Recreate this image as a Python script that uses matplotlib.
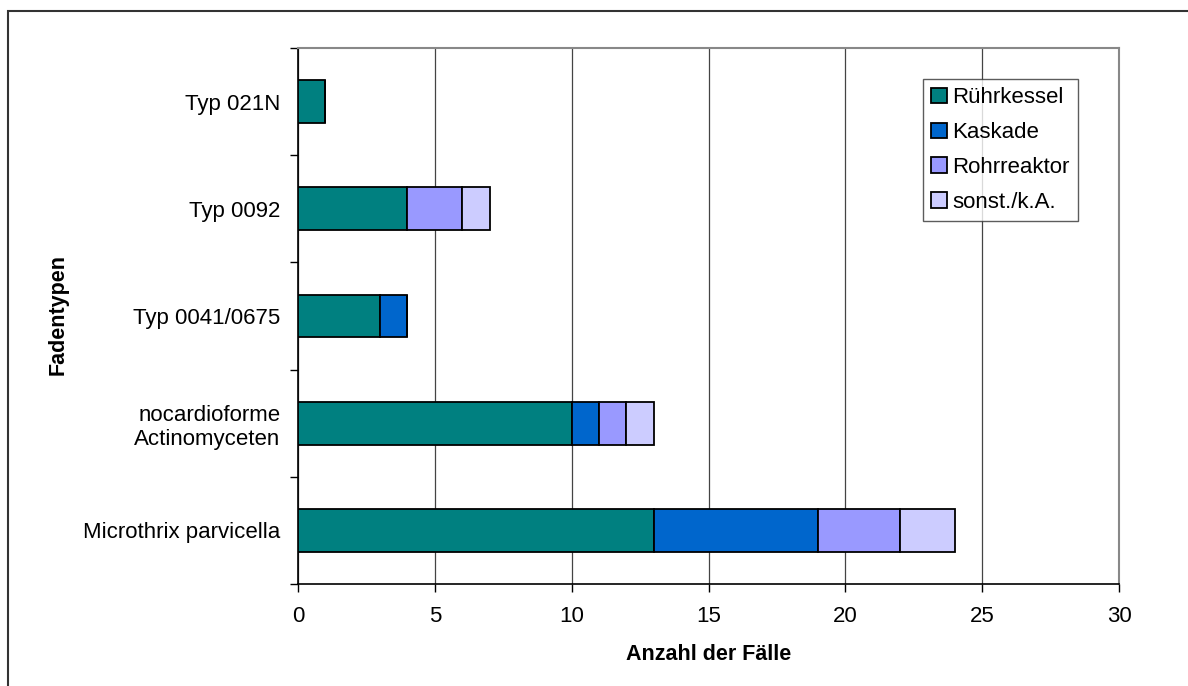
import matplotlib.pyplot as plt
from matplotlib.patches import Rectangle
import numpy as np

plt.rcParams['font.family'] = ['Liberation Sans', 'DejaVu Sans']

# Fadentypen, von unten nach oben
types = ["Microthrix parvicella", "nocardioforme\nActinomyceten", "Typ 0041/0675",
         "Typ 0092", "Typ 021N"]
ruehrkessel = [13, 10, 3, 4, 1]
kaskade = [6, 1, 1, 0, 0]
rohrreaktor = [3, 1, 0, 2, 0]
sonst = [2, 1, 0, 1, 0]

series = [("Rührkessel", ruehrkessel, "#008080"),
          ("Kaskade", kaskade, "#0066CC"),
          ("Rohrreaktor", rohrreaktor, "#9999FF"),
          ("sonst./k.A.", sonst, "#CCCCFF")]

W, H = 1188, 686
fig = plt.figure(figsize=(W / 100, H / 100), dpi=100)
ax = fig.add_axes([298 / W, 1 - 584 / H, (1119 - 298) / W, (584 - 48) / H])

# Rahmen um das ganze Diagramm
fig.patches.append(Rectangle((8 / W, -0.1), 1.2, 1.1 - 11 / H, transform=fig.transFigure,
                             fill=False, edgecolor="#333333", linewidth=1.5))

y = np.arange(len(types))
left = np.zeros(len(types))
for name, vals, col in series:
    vals = np.array(vals, dtype=float)
    ax.barh(y, vals, left=left, height=0.4, color=col, edgecolor="black",
            linewidth=1.3, label=name, zorder=3)
    left += vals

ax.set_xlim(0, 30)
ax.set_ylim(-0.5, len(types) - 0.5)
ax.set_xticks(range(0, 31, 5))
ax.xaxis.grid(True, color="#444444", linewidth=0.9, zorder=0)

# Kategorie-Trennstriche statt Ticks an den Balken
ax.set_yticks(np.arange(-0.5, len(types), 1.0))
ax.set_yticklabels([])
ax.set_yticks(y, minor=True)
ax.set_yticklabels(types, minor=True, fontsize=16, ha="right", multialignment="right")
ax.tick_params(axis="y", which="minor", length=0, pad=12.5)
ax.tick_params(axis="y", which="major", length=6, width=1, direction="out")
ax.tick_params(axis="x", length=6, width=1, direction="out", labelsize=16, pad=10)

for s in ["left", "bottom"]:
    ax.spines[s].set_color("black")
    ax.spines[s].set_linewidth(1.2)
for s in ["top", "right"]:
    ax.spines[s].set_color("#888888")
    ax.spines[s].set_linewidth(1.5)

ax.set_xlabel("Anzahl der Fälle", fontsize=15.5, fontweight="bold", labelpad=12)
fig.text(58 / W, 1 - 315 / H, "Fadentypen", rotation=90, fontsize=15.5,
         fontweight="bold", ha="center", va="center")

leg = ax.legend(loc="upper left", bbox_to_anchor=((923 - 298) / (1119 - 298), 1 - (79 - 48) / 536),
                fontsize=16, frameon=True, fancybox=False, edgecolor="#333333",
                handlelength=0.7, handleheight=0.7, handletextpad=0.25,
                labelspacing=0.62, borderpad=0.38, borderaxespad=0)
leg.get_frame().set_linewidth(1.0)

fig.savefig("out.png", dpi=100)
